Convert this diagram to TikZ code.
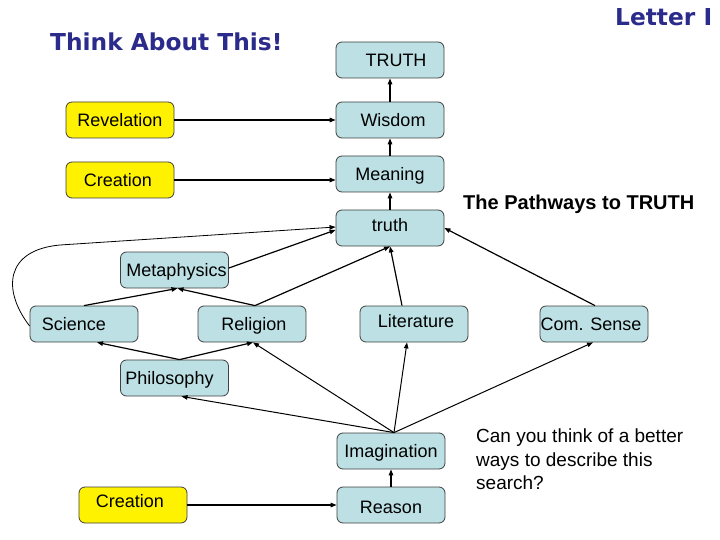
\documentclass[tikz,border=0pt]{standalone}
\usepackage{fontspec}
\setmainfont{Liberation Sans}
\newfontfamily\headfont{DejaVu Sans}
\usetikzlibrary{arrows.meta,calc}
\definecolor{boxblue}{RGB}{188,224,228}
\definecolor{navy}{RGB}{43,43,140}
\newcommand{\shifttext}[3]{\hspace*{#1}\raisebox{#2}{#3}\hspace*{-#1}}
\begin{document}
\begin{tikzpicture}[x=1pt,y=-1pt,
  box/.style={draw=black!75, line width=0.8pt, rounded corners=6pt,
    minimum width=108pt, minimum height=36pt, inner sep=0pt,
    font=\fontsize{18}{21}\selectfont, text height=12.5pt, text depth=0pt},
  bluebox/.style={box, fill=boxblue},
  yellowbox/.style={box, fill=yellow},
  arr/.style={-{Triangle[length=6pt,width=4.5pt]}, line width=1.2pt},
  fanarr/.style={-{Triangle[length=6pt,width=4.5pt]}, line width=1pt},
  thinarr/.style={-{Triangle[length=6pt,width=4.5pt]}, line width=0.8pt},
  heading/.style={font=\headfont\bfseries\fontsize{23.3}{26}\selectfont, text=navy, inner sep=0pt, anchor=base west}
]
\useasboundingbox (0,0) rectangle (720,540);
\fill[white] (0,0) rectangle (720,540);

% headings
\node[heading] (think) at (50,50.5) {Think About This!};
\node[heading] (letter) at (615,25.5) {Letter I};
\node[font=\bfseries\fontsize{20}{24}\selectfont, inner sep=0pt, anchor=base west] (pathways) at (463,210) {The Pathways to TRUTH};
\node[font=\fontsize{19}{23.5}\selectfont, align=left, inner sep=0pt, anchor=north west] (question) at (476,429) {Can you think of a better\\ways to describe this\\search?};

% boxes
\node[bluebox] (TRUTH) at (390,60) {\shifttext{6pt}{0pt}{TRUTH}};
\node[bluebox] (Wisdom) at (390,120) {\shifttext{3pt}{0pt}{Wisdom}};
\node[bluebox] (Meaning) at (390,174) {Meaning};
\node[bluebox] (truth) at (390,228) {\shifttext{0pt}{3pt}{truth}};
\node[yellowbox] (Revelation) at (120,120) {Revelation};
\node[yellowbox] (CreationA) at (120,180) {\shifttext{-2pt}{0pt}{Creation}};
\node[bluebox] (Metaphysics) at (174.5,270) {\shifttext{2pt}{0pt}{Metaphysics}};
\node[bluebox] (Science) at (84,324) {\shifttext{-10pt}{0pt}{Science}};
\node[bluebox] (Religion) at (252,324) {\shifttext{2pt}{0pt}{Religion}};
\node[bluebox] (Literature) at (414,324) {\shifttext{2pt}{3pt}{Literature}};
\node[bluebox] (ComSense) at (594,324) {\shifttext{-3pt}{0pt}{Com. Sense}};
\node[bluebox] (Philosophy) at (174.5,378) {\shifttext{-5pt}{0pt}{Philosophy}};
\node[bluebox] (Imagination) at (391,451) {Imagination};
\node[bluebox] (Reason) at (391,505) {\shifttext{0pt}{-2pt}{Reason}};
\node[yellowbox] (CreationB) at (133,505) {\shifttext{-3pt}{4pt}{Creation}};

% connectors
\draw[arr] (Wisdom.north) -- (TRUTH.south);
\draw[arr] (Revelation.east) -- (Wisdom.west);
\draw[arr] (Meaning.north) -- (Wisdom.south);
\draw[arr] (CreationA.east) -- (CreationA.east -| Meaning.west);
\draw[arr] (truth.north) -- (Meaning.south);
\draw[thinarr] ($(Science.west)+(0,2)$) .. controls (2,290) and (5,250) .. (60,245) -- ($(truth.west)+(0,-1)$);
\draw[arr] ($(Metaphysics.east)+(0,-2)$) -- ($(truth.west)+(0,2)$);
\draw[arr] ($(Religion.north)+(3,0)$) -- (truth.south);
\draw[arr] ($(Literature.north)+(-12,0)$) -- (truth.south);
\draw[arr] ($(ComSense.north)+(1,0)$) -- (truth.east);
\draw[arr] (Science.north) -- ($(Metaphysics.south)+(3,0)$);
\draw[arr] ($(Religion.north)+(3,0)$) -- ($(Metaphysics.south)+(3,0)$);
\draw[arr] ($(Philosophy.north)+(5,0)$) -- ($(Science.south)+(13,0)$);
\draw[arr] ($(Philosophy.north)+(5,0)$) -- ($(Religion.south)+(1,0)$);
\draw[fanarr] ($(Imagination.north)+(3,0)$) -- ($(Philosophy.south)+(7,0)$);
\draw[fanarr] ($(Imagination.north)+(3,0)$) -- ($(Religion.south)+(1,0)$);
\draw[fanarr] ($(Imagination.north)+(3,0)$) -- ($(Literature.south)+(-7,0)$);
\draw[fanarr] ($(Imagination.north)+(3,0)$) -- ($(ComSense.south)+(-1,0)$);
\draw[arr] (Reason.north) -- (Imagination.south);
\draw[arr] (CreationB.east) -- (Reason.west);
\end{tikzpicture}
\end{document}
